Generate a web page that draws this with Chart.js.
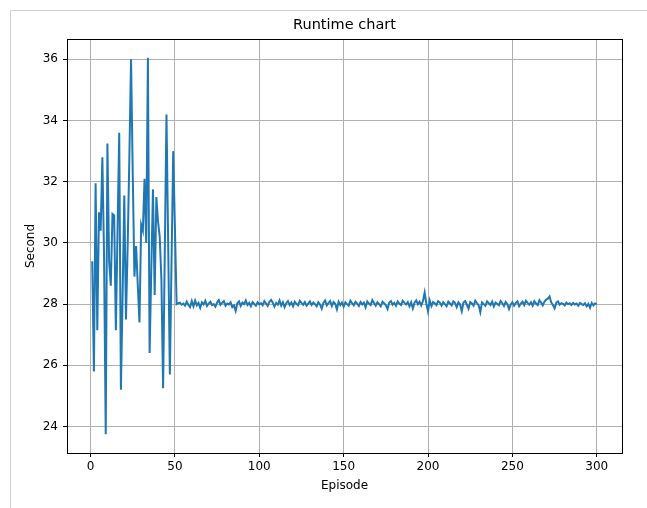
<!DOCTYPE html>
<html>
<head>
<meta charset="utf-8">
<script src="https://cdn.jsdelivr.net/npm/chart.js@4/dist/chart.umd.min.js"></script>
<style>
  html, body { margin: 0; padding: 0; background: #ffffff; }
  #c { display: block; }
</style>
</head>
<body>
<canvas id="c" width="647" height="508"></canvas>
<script>
// ---- Data ----
const chartTitle = "Runtime chart";
const xAxisLabel = "Episode";
const yAxisLabel = "Second";
const xTickValues = [0, 50, 100, 150, 200, 250, 300];
const yTickValues = [24, 26, 28, 30, 32, 34, 36];

// Episodes 1..50 (volatile start)
const runtimeEarly = [
  29.4, 25.8, 31.95, 27.15, 31.0, 30.4, 32.8, 29.6, 23.75, 33.25,
  29.4, 28.6, 30.95, 30.9, 27.15, 30.4, 33.6, 25.2, 28.3, 31.55,
  27.5, 29.9, 32.8, 36.0, 32.3, 28.9, 29.9, 28.6, 27.4, 30.6,
  30.4, 32.1, 30.0, 36.05, 26.4, 29.1, 31.75, 28.3, 31.5, 30.7,
  30.2, 28.8, 25.25, 29.7, 34.2, 30.0, 25.7, 29.4, 33.0, 30.5
];
// Episodes 51..300 (stable part)
const runtimeLate = [
  28.00, 28.03, 28.05, 27.98, 28.02, 27.95, 28.08, 27.97, 27.90, 28.10,
  27.93, 28.12, 27.96, 28.04, 27.88, 28.06, 27.99, 28.11, 27.94, 28.02,
  28.08, 27.97, 28.00, 27.92, 28.05, 28.13, 27.98, 28.04, 28.10, 27.95,
  28.02, 27.99, 28.06, 27.90, 27.96, 27.78, 28.03, 28.09, 27.94, 28.05,
  28.00, 28.12, 27.97, 28.04, 27.93, 28.07, 28.01, 27.95, 28.06, 27.99,
  28.03, 27.96, 28.10, 28.02, 27.94, 28.08, 28.14, 28.05, 27.92, 28.04,
  27.98, 28.12, 27.95, 28.06, 27.90, 28.03, 28.10, 27.97, 28.05, 27.93,
  28.08, 28.01, 27.96, 28.11, 28.04, 27.98, 28.07, 27.95, 28.02, 28.09,
  27.97, 28.05, 28.00, 27.93, 28.06, 27.99, 27.85, 28.04, 28.12, 27.96,
  28.03, 28.10, 27.94, 28.07, 28.01, 27.83, 28.08, 27.97, 28.05, 27.92,
  28.06, 28.00, 27.95, 28.11, 28.03, 27.96, 28.08, 28.02, 27.94, 28.07,
  27.99, 28.05, 27.90, 28.09, 28.02, 27.97, 28.13, 28.04, 27.95, 28.06,
  28.00, 27.93, 28.08, 28.03, 27.96, 27.84, 28.05, 28.10, 27.98, 28.04,
  27.95, 28.09, 28.02, 27.97, 28.11, 28.04, 27.99, 28.07, 27.93, 28.06,
  27.86, 28.05, 28.12, 28.00, 28.08, 27.96, 28.10, 28.38, 28.02, 27.76,
  28.12, 27.94, 28.07, 28.03, 27.97, 28.10, 28.05, 27.95, 28.06, 28.00,
  27.93, 28.08, 28.02, 27.96, 28.09, 28.04, 27.90, 28.06, 27.99, 27.77,
  28.05, 28.10, 27.98, 27.85, 28.07, 28.02, 27.95, 28.11, 28.03, 27.96,
  27.74, 28.06, 28.00, 27.95, 28.09, 28.03, 27.97, 28.08, 27.92, 28.05,
  28.01, 27.96, 28.10, 28.03, 27.94, 28.07, 28.00, 27.84, 27.99, 28.06,
  27.95, 28.04, 28.09, 27.93, 28.02, 28.08, 27.97, 28.11, 28.04, 27.98,
  28.06, 27.95, 28.10, 28.02, 27.97, 28.13, 28.05, 27.96, 28.08, 28.15,
  28.18, 28.25, 28.06, 27.97, 27.86, 28.04, 28.09, 27.98, 28.03, 28.01,
  27.96, 28.05, 28.00, 28.03, 27.97, 28.04, 27.99, 28.02, 27.95, 28.04,
  28.00, 27.97, 28.03, 27.93, 28.01, 27.88, 28.04, 27.96, 28.02, 28.00
];
const firstEpisode = 1;

// ---- Build points ----
const runtime = runtimeEarly.concat(runtimeLate);
const points = runtime.map((v, i) => ({ x: firstEpisode + i, y: v }));

const FONT = "'DejaVu Sans', sans-serif";

const framePlugin = {
  id: 'framePlugin',
  beforeDraw(chart) {
    const ctx = chart.ctx;
    ctx.save();
    ctx.fillStyle = '#ffffff';
    ctx.fillRect(0, 0, chart.width, chart.height);
    ctx.strokeStyle = '#cfcfcf';
    ctx.lineWidth = 1;
    ctx.beginPath();
    ctx.moveTo(10.5, chart.height);
    ctx.lineTo(10.5, 10.5);
    ctx.lineTo(chart.width, 10.5);
    ctx.stroke();
    ctx.restore();
  },
  afterDraw(chart) {
    const a = chart.chartArea;
    const ctx = chart.ctx;
    ctx.save();
    ctx.strokeStyle = '#000000';
    ctx.lineWidth = 1;
    ctx.strokeRect(Math.round(a.left) + 0.5, Math.round(a.top) + 0.5,
                   Math.round(a.right - a.left), Math.round(a.bottom - a.top));
    ctx.restore();
  }
};

new Chart(document.getElementById('c'), {
  type: 'line',
  data: {
    datasets: [{
      label: 'Runtime',
      data: points,
      borderColor: '#1f77b4',
      backgroundColor: '#1f77b4',
      borderWidth: 2,
      pointRadius: 0,
      tension: 0,
      fill: false
    }]
  },
  options: {
    responsive: false,
    animation: false,
    devicePixelRatio: 1,
    layout: { padding: { left: 0, right: 25, top: 0, bottom: 0 } },
    plugins: {
      legend: { display: false },
      tooltip: { enabled: false },
      title: {
        display: true,
        fullSize: false,
        text: chartTitle,
        color: '#000000',
        font: { family: FONT, size: 14.5, weight: 'normal' },
        padding: { top: 17, bottom: 4.6 }
      }
    },
    scales: {
      x: {
        type: 'linear',
        min: -13.95,
        max: 314.95,
        afterBuildTicks(scale) { scale.ticks = xTickValues.map(v => ({ value: v })); },
        afterFit(scale) { scale.height = 55; },
        ticks: {
          color: '#000000',
          font: { family: FONT, size: 12 },
          padding: 3,
          maxRotation: 0,
          autoSkip: false,
          callback: (v) => String(v)
        },
        grid: {
          color: '#b0b0b0',
          lineWidth: 1,
          drawTicks: true,
          tickLength: 4,
          tickColor: '#000000'
        },
        border: { display: true, color: '#000000', width: 1 },
        title: {
          display: true,
          text: xAxisLabel,
          color: '#000000',
          font: { family: FONT, size: 12 },
          padding: { top: 0, bottom: 14.8 }
        }
      },
      y: {
        type: 'linear',
        min: 23.135,
        max: 36.665,
        afterBuildTicks(scale) { scale.ticks = yTickValues.map(v => ({ value: v })); },
        afterFit(scale) { scale.width = 67; },
        ticks: {
          color: '#000000',
          font: { family: FONT, size: 12 },
          padding: 5,
          autoSkip: false,
          callback: (v) => String(v)
        },
        grid: {
          color: '#b0b0b0',
          lineWidth: 1,
          drawTicks: true,
          tickLength: 4,
          tickColor: '#000000'
        },
        border: { display: true, color: '#000000', width: 1 },
        title: {
          display: true,
          text: yAxisLabel,
          color: '#000000',
          font: { family: FONT, size: 12 },
          padding: { top: 23.8, bottom: 0 }
        }
      }
    }
  },
  plugins: [framePlugin]
});
</script>
</body>
</html>
